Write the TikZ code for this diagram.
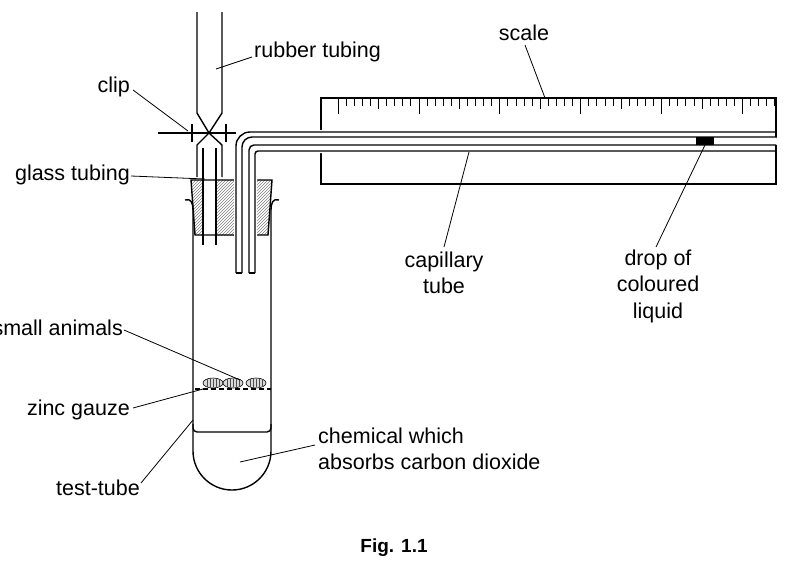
\documentclass[tikz,border=0pt]{standalone}
\usepackage{fontspec}
\setmainfont{Liberation Sans}
\usetikzlibrary{patterns}
\begin{document}
\begin{tikzpicture}[x=1pt,y=-1pt,
  lbl/.style={font=\fontsize{21.5}{26.5}\selectfont,inner sep=0pt},
  lead/.style={line width=0.8pt},
  part/.style={line width=1.4pt},
  hat/.style={pattern=north east lines,pattern color=gray}]
\useasboundingbox (0,0) rectangle (787,565);
% scale
\draw[part] (321,98) rectangle (776,184);
\foreach \i in {0,...,54}{
  \pgfmathsetmacro{\xx}{338+8.09*\i}
  \pgfmathsetmacro{\ll}{mod(\i,10)==0 ? 16 : (mod(\i,5)==0 ? 11 : 8)}
  \draw[line width=0.8pt] (\xx,98) -- (\xx,98+\ll);
}
% bung
\fill[hat] (191,180)--(203,180)--(203,235)--(195,235)--cycle;
\fill[hat] (216,180)--(236,180)--(236,235)--(216,235)--cycle;
\fill[hat] (255,180)--(272,180)--(268,235)--(255,235)--cycle;
\draw[part] (191,180)--(272,180)--(268,235)--(195,235)--cycle;
% capillary
\fill[white,rounded corners=14] (234,274)--(234,130)--(778,130)--(778,153)--(257,153)--(257,274)--cycle;
\draw[part,rounded corners=14] (236,273)--(236,132)--(776,132);
\draw[part,rounded corners=10] (242,273)--(242,137)--(776,137);
\draw[part,rounded corners=5] (249,273)--(249,145)--(776,145);
\draw[part,rounded corners=3] (255,273)--(255,151)--(776,151);
\draw[part] (236,273)--(242,273) (249,273)--(255,273) (776,132)--(776,137) (776,145)--(776,151);
\fill (696,137) rectangle (714,145);
% tubing
\draw[part] (197,12)--(197,113)--(209,133)--(197,145)--(197,177);
\draw[part] (222,12)--(222,113)--(209,133)--(222,145)--(222,177);
\draw[part] (203,148)--(203,245) (216,148)--(216,245);
\draw[part] (158,133)--(236,133);
\draw[part] (192,124)--(192,142) (226,124)--(226,142);
% test tube
\draw[part] (185,200) .. controls (191,198) and (193,203) .. (193,210) -- (193,451) arc[start angle=180,end angle=0,radius=39] -- (271,210) .. controls (271,203) and (273,198) .. (279,200);
\draw[part,rounded corners=4] (193,424)--(193,432)--(271,432)--(271,424);
\draw[line width=2pt,dash pattern=on 5pt off 3pt] (195,389)--(271,389);
\foreach \cx in {213,233,256}{
  \draw[line width=0.6pt,fill=gray!30] (\cx,383) ellipse[x radius=10,y radius=5];
  \foreach \d in {-6,-3,...,6} \draw[line width=0.5pt,gray!60!black] (\cx+\d,379)--(\cx+\d,387);
}
% labels
\node[lbl,anchor=west] (rt) at (254,52) {rubber tubing};
\draw[lead] (252,57)--(216,69);
\node[lbl,anchor=east] (clip) at (130,87) {clip};
\draw[lead] (133,90)--(188,131);
\node[lbl,anchor=east] (gt) at (130,175) {glass tubing};
\draw[lead] (131,176)--(205,179);
\node[lbl] (sc) at (524,33) {scale};
\draw[lead] (525,45)--(545,98);
\node[lbl,align=center] (ct) at (444,273) {capillary\\tube};
\draw[lead] (444,247)--(469,152);
\node[lbl,align=center] (dr) at (658,286) {drop of\\coloured\\liquid};
\draw[lead] (656,247)--(705,145);
\node[lbl,anchor=east] (sa) at (123,328) {small animals};
\draw[lead] (124,330)--(240,380);
\node[lbl,anchor=east] (zg) at (130,410) {zinc gauze};
\draw[lead] (133,408)--(203,389);
\node[lbl,anchor=west,align=left] (ch) at (318,449) {chemical which\\absorbs carbon dioxide};
\draw[lead] (315,445)--(240,462);
\node[lbl,anchor=east] (tt) at (140,488) {test-tube};
\draw[lead] (141,483)--(193,420);
\node[lbl,font=\fontsize{19}{22}\selectfont\bfseries] (fig) at (394,548) {Fig. 1.1};
\end{tikzpicture}
\end{document}
